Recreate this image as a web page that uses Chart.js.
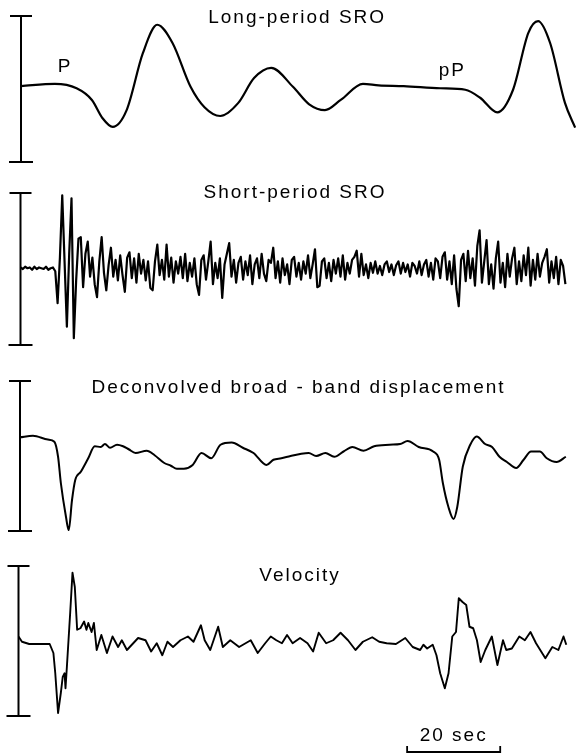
<!DOCTYPE html>
<html>
<head>
<meta charset="utf-8">
<script src="https://cdn.jsdelivr.net/npm/chart.js@4.4.0/dist/chart.umd.min.js"></script>
<style>
  body { margin: 0; background: #fff; }
  canvas { position: absolute; left: 0; }
</style>
</head>
<body>
<canvas id="chartLong" width="577" height="175" style="top:0"></canvas>
<canvas id="chartShort" width="577" height="185" style="top:175px"></canvas>
<canvas id="chartDisp" width="577" height="188" style="top:360px"></canvas>
<canvas id="chartVel" width="577" height="206" style="top:548px"></canvas>
<script>
// time in seconds from the start of each trace, amplitude so that the scale bar = -100..100

// Long-period SRO
const longTime = [0, 7.3, 12.0, 15.3, 17.6, 19.8, 22.8, 26.3, 29.4, 32.7, 36.6, 39.6, 43.0, 46.9, 50.3, 54.0, 58.7,
  62.2, 65.6, 69.0, 73.8, 77.2, 82.6, 90.5, 95.9, 99.1, 102.8, 106.2, 109.5, 111.6, 114.2, 117.4, 119.6];
const longAmp = [4, 7, 1, -15, -40, -52, -29, 49, 88, 63, 3, -25, -37, -19, 15, 29, 3,
  -21, -29, -15, 7, 5, 4, 1, -1, -12, -32, -1, 77, 93, 63, -19, -53];

// Short-period SRO, one sample every 0.5 s
const shortStep = 0.5;
const shortAmp = [
  2, 0, 3, 1, 2, -1, 3, 0, 2, 1, 0, 3, -1, 1, 2, -3,
  -45, 15, 97, 10, -76, 20, 93, -91, -15, 40,
  42, -24, 20, 36, -10, 15, -20, -37, 10, 42, -5, -28, 5, 28, -10,
  12, -15, 18, -8, -30, 15, 22, -12, 14, -18, 20, -6, 12, -15, 10, -25, -28, 10, 32, -8,
  12, -14, 32, -10, 15, -18, 10, -6, 16, -12, 20, -16, 8, -10, 14, -20, -34, 12, 18, -14,
  10, 36, -20, 8, -12, 14, -38, 6, 20, 34, -10, 12, -18, 8, 16, -14, 10, -8, 18, -20,
  6, 14, -12, 20, -6, -16, 12, 8, 28, -12, 10, -18, 14, -8, 6, -20, 12, 16, -10, 8,
  -14, 10, -6, 18, -12, 6, 26, -24, -22, 10, 14, -12, 8, -16, 12, -6, 14, -10, 18, -14,
  8, -6, 12, 16, 24, -10, 20, -8, 6, -12, 8, -5, 10, -6, 4, -8, 6, 10, -4, 6,
  -8, 5, 10, -6, 8, -4, 6, -10, 8, 4, -6, 10, -8, 6, 12, -10, 8, -14, 14, 10,
  -12, 16, 22, -14, 10, -20, 18, -26, -49, 12, 20, -16, 24, -12, 14, -22, 30, 51, -18, 10,
  38, -20, 6, -26, 14, 36, -18, 8, -24, 20, -10, 14, 28, -20, 10, -16, 18, -8, 28, -22,
  12, -14, 20, -10, 8, 16, 26, -18, 10, -12, 16, -20, 12, 4, -20
];

// Deconvolved broad-band displacement
const dispTime = [0, 2.8, 6.0, 7.4, 8.2, 8.8, 9.9, 10.5, 11.2, 11.9, 13.1, 14.7, 16.1, 17.4, 18.3, 19.4, 20.9,
  22.2, 23.4, 24.9, 27.3, 29.0, 31.0, 32.5, 33.8, 35.3, 37.2, 39.1, 41.2, 43.2, 45.6, 48.0, 50.3, 53.1, 54.6,
  56.3, 58.3, 60.6, 62.2, 63.8, 65.8, 67.7, 69.7, 71.6, 74.0, 76.3, 79.6, 81.9, 83.5, 85.9, 89.0, 90.3, 91.1,
  92.3, 93.4, 94.2, 95.4, 97.0, 98.4, 100.2, 101.7, 103.3, 104.9, 106.9, 108.5, 110.1, 112.0, 113.5, 115.6, 117.6];
const dispAmp = [25, 27, 22, 19, -1, -36, -81, -99, -59, -32, -21, -3, 13, 12, 16, 11, 15,
  13, 9, 4, 7, 1, -9, -13, -17, -17, -12, 4, -3, 15, 18, 11, 4, -12, -5,
  -3, 0, 3, 4, 0, 4, -1, 6, 12, 7, 13, 15, 16, 20, 12, 6, -5, -36,
  -68, -84, -68, -14, 15, 26, 16, 12, -1, -8, -16, -5, 6, 6, -3, -8, -1];

// Velocity
const velTime = [0, 0.75, 2.3, 6.7, 7.5, 7.9, 8.5, 9.1, 9.5, 9.9, 10.1, 10.4, 11.1, 11.6, 12.1, 12.6, 13.3,
  14.1, 14.6, 15.0, 15.7, 16.2, 16.8, 17.8, 19.0, 20.2, 21.4, 22.2, 23.3, 25.7, 27.3, 28.5, 29.7, 30.9, 32.0,
  33.2, 34.8, 36.4, 37.6, 39.2, 40.0, 41.2, 42.9, 43.9, 45.5, 47.4, 49.9, 51.4, 53.0, 54.2, 55.4, 56.6, 57.7,
  58.9, 60.5, 62.1, 63.3, 64.5, 66.1, 67.6, 69.2, 70.8, 72.4, 74.0, 76.0, 77.5, 79.1, 81.1, 83.1, 84.7, 86.3,
  87.0, 87.8, 89.0, 89.8, 90.6, 91.6, 92.4, 93.2, 94.0, 94.6, 95.4, 96.2, 96.9, 97.7, 98.5, 99.3, 100.3, 101.7,
  102.9, 104.1, 104.8, 106.0, 107.6, 108.8, 110.0, 111.2, 113.2, 114.7, 116.0, 117.1, 117.7];
const velAmp = [6, -1, -4, -4, -16, -43, -96, -69, -48, -43, -63, -34, 37, 91, 72, 15, 17,
  26, 15, 24, 12, 24, -12, 8, -16, 6, -8, 1, -12, 4, 1, -14, -3, -19, -1,
  -8, 1, 6, -1, 21, 1, -12, 19, -8, 1, -8, 1, -16, -3, 6, 1, -3, 8,
  -3, 4, -3, -14, 11, -3, 1, 11, 1, -12, -1, 5, -1, -3, -4, 4, -8, -12,
  -5, -10, -5, -19, -43, -63, -43, 6, 12, 57, 52, 48, 19, 17, 1, -28, -12, 6,
  -32, 1, -12, -10, 6, 1, 12, -3, -23, -8, -12, 6, -5];

const panelTitles = ["Long-period SRO", "Short-period SRO", "Deconvolved broad - band displacement", "Velocity"];
const phaseLabels = ["P", "pP"];
const phaseTimes = [9.5, 93.1];
const timeBarSeconds = 20;

function pairs(xs, ys) {
  return ys.map((y, i) => ({ x: xs[i], y: y }));
}

function makeDecor(texts, timeBar) {
  return {
    id: "decor",
    afterDraw(chart) {
      const ctx = chart.ctx;
      const area = chart.chartArea;
      const xs = chart.scales.x;
      const ys = chart.scales.y;
      ctx.save();
      ctx.strokeStyle = "#000";
      ctx.fillStyle = "#000";
      // amplitude scale bar at the start of the trace
      ctx.lineWidth = 2;
      ctx.beginPath();
      ctx.moveTo(area.left, ys.getPixelForValue(ys.max));
      ctx.lineTo(area.left, ys.getPixelForValue(ys.min));
      ctx.stroke();
      ctx.lineWidth = 1.8;
      ctx.beginPath();
      ctx.moveTo(area.left - 11, ys.getPixelForValue(ys.max));
      ctx.lineTo(area.left + 11, ys.getPixelForValue(ys.max));
      ctx.moveTo(area.left - 12, ys.getPixelForValue(ys.min));
      ctx.lineTo(area.left + 12, ys.getPixelForValue(ys.min));
      ctx.stroke();

      ctx.font = "19px 'Liberation Sans', Arial, sans-serif";
      ctx.letterSpacing = "2px";
      ctx.textAlign = "center";
      ctx.textBaseline = "alphabetic";
      texts.forEach((t) => {
        ctx.fillText(t.text, xs.getPixelForValue(t.x), ys.getPixelForValue(t.y));
      });

      if (timeBar) {
        const x1 = xs.getPixelForValue(timeBar.start);
        const x2 = xs.getPixelForValue(timeBar.start + timeBar.length);
        const y = area.bottom + 36;
        ctx.lineWidth = 1.8;
        ctx.beginPath();
        ctx.moveTo(x1, y - 6);
        ctx.lineTo(x1, y);
        ctx.lineTo(x2, y);
        ctx.lineTo(x2, y - 6);
        ctx.stroke();
        ctx.fillText(timeBar.label, (x1 + x2) / 2, y - 11);
      }
      ctx.restore();
    },
  };
}

function renderTrace(canvasId, data, pad, width, smooth, texts, timeBar) {
  const ctx = document.getElementById(canvasId).getContext("2d");
  return new Chart(ctx, {
    type: "line",
    data: {
      datasets: [
        {
          data: data,
          borderColor: "#000",
          borderWidth: width,
          fill: false,
          pointRadius: 0,
          tension: smooth ? 0.4 : 0,
          cubicInterpolationMode: smooth ? "monotone" : "default",
          borderJoinStyle: "round",
        },
      ],
    },
    options: {
      responsive: false,
      animation: false,
      events: [],
      layout: { padding: pad },
      plugins: { legend: { display: false }, tooltip: { enabled: false } },
      scales: {
        x: { type: "linear", min: 0, max: 120, display: false },
        y: { min: -100, max: 100, display: false },
      },
    },
    plugins: [makeDecor(texts, timeBar)],
  });
}

renderTrace("chartLong", pairs(longTime, longAmp), { left: 21, right: 0, top: 16, bottom: 13 }, 2.2, true, [
  { text: panelTitles[0], x: 59.6, y: 91 },
  { text: phaseLabels[0], x: phaseTimes[0], y: 23 },
  { text: phaseLabels[1], x: phaseTimes[1], y: 18 },
]);

renderTrace(
  "chartShort",
  shortAmp.map((v, i) => ({ x: i * shortStep, y: v })),
  { left: 20.5, right: 0, top: 18, bottom: 15 },
  2.2,
  false,
  [{ text: panelTitles[1], x: 59.2, y: 93 }]
);

renderTrace("chartDisp", pairs(dispTime, dispAmp), { left: 20, right: 0, top: 21, bottom: 17 }, 2, true, [
  { text: panelTitles[2], x: 60.0, y: 84 },
]);

renderTrace(
  "chartVel",
  pairs(velTime, velAmp),
  { left: 18.5, right: 0, top: 18, bottom: 38 },
  1.9,
  false,
  [{ text: panelTitles[3], x: 60.5, y: 80 }],
  { start: 83.5, length: timeBarSeconds, label: timeBarSeconds + " sec" }
);
</script>
</body>
</html>
